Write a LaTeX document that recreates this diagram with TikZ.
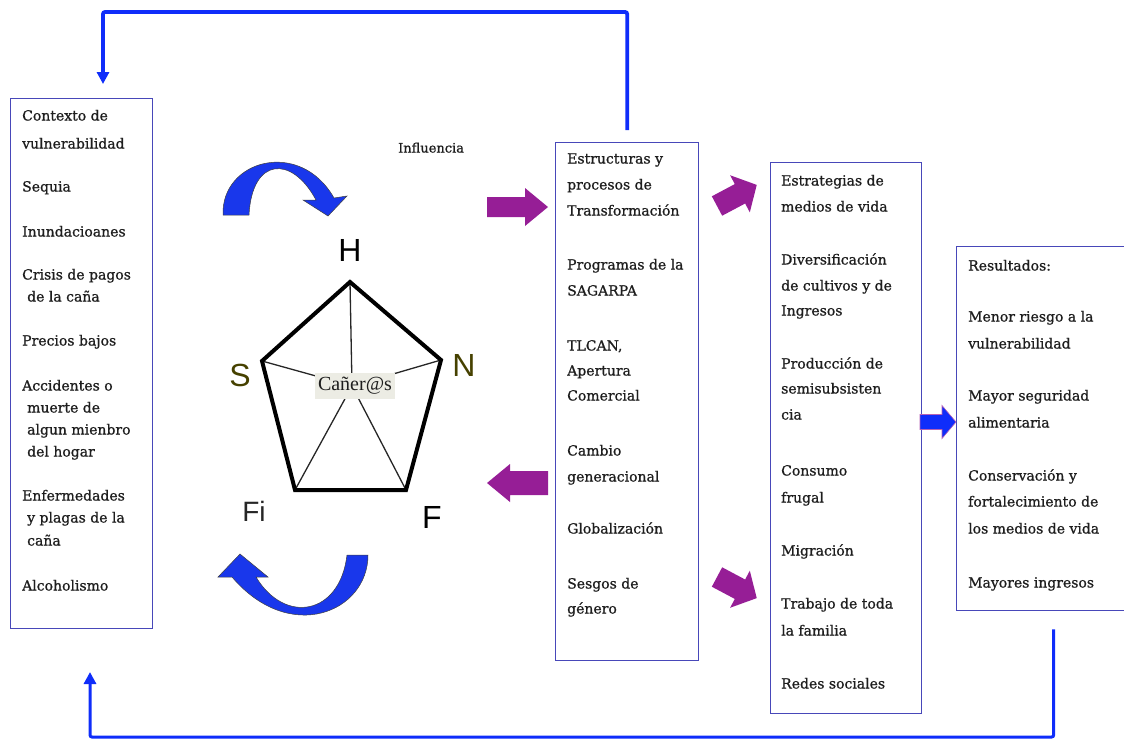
\documentclass[tikz,border=0pt]{standalone}
\usepackage{fontspec}
\setmainfont{DejaVu Serif}
\newfontfamily\bodyf{DejaVu Serif}[FakeBold=0.9]
\newfontfamily\sansf{Liberation Sans}
\newfontfamily\timesf{Liberation Serif}
\usetikzlibrary{arrows.meta}
\definecolor{boxc}{RGB}{72,72,185}
\definecolor{flowc}{RGB}{15,45,250}
\definecolor{purp}{RGB}{150,30,150}
\definecolor{curvc}{RGB}{25,55,235}
\definecolor{txtc}{RGB}{30,30,30}
\definecolor{olivec}{RGB}{70,65,0}
\definecolor{lblbg}{RGB}{236,236,228}
\tikzset{
  pics/barrow/.style n args={4}{code={
    \path[pic actions] (0,-#3) -- ({#1-#2},-#3) -- ({#1-#2},-#4) -- (#1,0)
      -- ({#1-#2},#4) -- ({#1-#2},#3) -- (0,#3) -- cycle;}},
}
\begin{document}
\begin{tikzpicture}[x=1pt,y=-1pt,
  box/.style={draw=boxc,line width=1.3pt,anchor=north west,inner sep=0pt},
  ln/.style={anchor=west,inner sep=0pt,text height=10pt,text depth=3pt,
    text=txtc,font=\bodyf\fontsize{14}{16}\selectfont},
  letter/.style={inner sep=0pt,font=\sansf\fontsize{32}{36}\selectfont},
  flow/.style={draw=flowc,line width=3.8pt,rounded corners=2pt,
    -{Triangle[width=12pt,length=12pt]}},
  curv/.style={fill=curvc,draw=black!75,line width=0.5pt},
  pent/.style={line width=4pt,line join=miter},
  spoke/.style={line width=1.3pt,draw=black!85},
]
\useasboundingbox (0,0) rectangle (1124,740);
\clip (0,0) rectangle (1124,740);

% boxes
\node[box,minimum width=142pt,minimum height=530pt] (L) at (10,98) {};
\node[box,minimum width=143pt,minimum height=518pt] (M) at (555,142) {};
\node[box,minimum width=151pt,minimum height=551pt] (B1) at (770,162) {};
\node[box,minimum width=194pt,minimum height=364pt] (B2) at (956,246) {};

% left box text
\foreach \x/\y/\t [count=\i] in {
  22/117/Contexto de, 22/145/vulnerabilidad, 22/188/Sequia,
  22/233/Inundacioanes, 22/276/Crisis de pagos, 27/298/de la caña,
  22/342/Precios bajos, 22/387/Accidentes o, 27/409/muerte de,
  27/431/algun mienbro, 27/453/del hogar, 22/497/Enfermedades,
  27/519/y plagas de la, 27/542/caña, 22/587/Alcoholismo}
  \node[ln] (Lt\i) at (\x,\y) {\t};

% middle box text
\foreach \y/\t [count=\i] in {
  160/Estructuras y, 186/procesos de, 212/Transformación,
  266/Programas de la, 292/SAGARPA, 347/{TLCAN,}, 372/Apertura,
  397/Comercial, 452/Cambio, 478/generacional, 530/Globalización,
  585/Sesgos de, 610/género}
  \node[ln] (Mt\i) at (567,\y) {\t};

% strategies box text
\foreach \y/\t [count=\i] in {
  182/Estrategias de, 208/medios de vida, 261/Diversificación,
  287/de cultivos y de, 312/Ingresos, 365/Producción de,
  390/semisubsisten, 416/cia, 472/Consumo, 499/frugal,
  552/Migración, 605/Trabajo de toda, 632/la familia, 685/Redes sociales}
  \node[ln] (Rt\i) at (781,\y) {\t};

% results box text
\foreach \y/\t [count=\i] in {
  267/Resultados:, 318/Menor riesgo a la, 345/vulnerabilidad,
  397/Mayor seguridad, 424/alimentaria, 477/Conservación y,
  503/fortalecimiento de, 530/los medios de vida, 584/Mayores ingresos}
  \node[ln] (Ot\i) at (968,\y) {\t};

\node[ln,font=\bodyf\fontsize{13}{15}\selectfont] (infl) at (398,149) {Influencia};

% feedback connectors
\coordinate (Tc) at (103,12);
\coordinate (Ltop) at (103,84);
\draw[flow,shorten <=12pt] (M.north) |- (Tc) -- (Ltop);
\coordinate (Bc) at (90,737);
\coordinate (Lbot) at (90,672);
\draw[flow,line width=3pt,shorten <=18pt] (B2.south) |- (Bc) -- (Lbot);

% pentagon
\coordinate (vH) at (350,282);
\coordinate (vS) at (262,361);
\coordinate (vN) at (441,360);
\coordinate (vF) at (406,490);
\coordinate (vFi) at (295,490);
\coordinate (C) at (352,386);
\foreach \v in {vH,vS,vN,vF,vFi} \draw[spoke] (\v) -- (C);
\draw[pent] (vH) -- (vN) -- (vF) -- (vFi) -- (vS) -- cycle;
\node[fill=lblbg,inner xsep=3pt,inner ysep=4pt,
  font=\timesf\fontsize{20}{22}\selectfont,text=txtc] (cane) at (355,386) {Cañer@s};

\node[letter] (H) at (350,250) {H};
\node[letter,text=olivec] (S) at (240,375) {S};
\node[letter,text=olivec] (N) at (464,365) {N};
\node[letter] (F) at (432,517) {F};
\node[letter,font=\sansf\fontsize{28}{32}\selectfont,text=black!85] (Fi) at (254,511) {Fi};

% curved arrows
\draw[curv] (223,215) .. controls (221,160) and (300,138) .. (334,198)
  -- (347,196) -- (328,216) -- (303,200) -- (316,200)
  .. controls (292,155) and (252,157) .. (249,215) -- cycle;
\draw[curv] (347,555) -- (368,555) .. controls (368,612) and (290,645) .. (232,577)
  -- (218,577) -- (240,554) -- (268,577) -- (256,577)
  .. controls (285,625) and (340,615) .. (347,555) -- cycle;

% block arrows
\pic[fill=purp] at (487,207) {barrow={61}{23}{10}{19}};
\pic[fill=purp,rotate=180] at (548,483) {barrow={61}{23}{12}{19}};
\pic[fill=purp,rotate=28] at (717,206) {barrow={45}{19}{11}{21}};
\pic[fill=purp,rotate=-28] at (717,577) {barrow={45}{19}{11}{21}};
\pic[fill=flowc,draw=purp!70,line width=0.6pt] at (920,422) {barrow={36}{14}{7.5}{16.5}};
\end{tikzpicture}
\end{document}
